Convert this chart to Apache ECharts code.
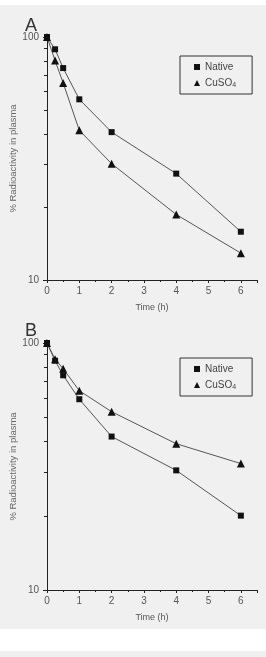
<!DOCTYPE html>
<html>
<head>
<meta charset="utf-8">
<script src="https://cdn.jsdelivr.net/npm/echarts@6/dist/echarts.min.js"></script>
<style>
  body { margin: 0; background: #fff; }
  #chart { position: absolute; left: 0; top: 5px; width: 266px; height: 624px; background: #f0f0f0; }
  #strip { position: absolute; left: 0; top: 651px; width: 266px; height: 6px; background: #f0f0f0; }
</style>
</head>
<body>
<div id="chart"></div>
<div id="strip"></div>
<script>
// 时间点 (h)
var times = [0, 0.25, 0.5, 1, 2, 4, 6];
// A 图数据
var nativeA = [100, 89, 74.5, 55.4, 40.6, 27.4, 15.8];
var cuso4A = [100, 80, 64.7, 41.3, 30.1, 18.6, 12.9];
// B 图数据
var nativeB = [100, 84.8, 74, 59.2, 41.8, 30.5, 20];
var cuso4B = [100, 86, 78.7, 64.1, 52.7, 39.1, 32.5];
// 刻度
var yMinorTicks = [20, 30, 40, 50, 60, 70, 80, 90];

var font = 'Liberation Sans, Arial, sans-serif';

function pairs(vals) {
    return times.map(function (t, i) { return [t, vals[i]]; });
}

function xAxisOf(gi) {
    return {
        type: 'value', gridIndex: gi, min: 0, max: 6.5, interval: 1,
        name: 'Time (h)', nameLocation: 'middle', nameGap: 23, nameMoveOverlap: false,
        nameTextStyle: { fontFamily: font, fontSize: 9, color: '#555' },
        axisLine: { lineStyle: { color: '#222', width: 1 } },
        axisTick: { show: true, length: 3, lineStyle: { color: '#222' } },
        minorTick: { show: true, splitNumber: 2, length: 2, lineStyle: { color: '#222' } },
        splitLine: { show: false },
        axisLabel: {
            fontFamily: font, fontSize: 10, color: '#555', margin: 6,
            formatter: function (v) { return v % 1 === 0 && v <= 6 ? String(v) : ''; }
        }
    };
}

function yAxisOf(gi) {
    return {
        type: 'log', gridIndex: gi, logBase: 10, min: 10, max: 100,
        name: '% Radioactivity in plasma', nameLocation: 'middle', nameGap: 29, nameMoveOverlap: false,
        nameTextStyle: { fontFamily: font, fontSize: 9.5, color: '#666' },
        axisLine: { show: true, lineStyle: { color: '#222', width: 1 } },
        axisTick: { show: true, length: 4, lineStyle: { color: '#222' } },
        splitLine: { show: false },
        axisLabel: { fontFamily: font, fontSize: 10, color: '#555', margin: 8 }
    };
}

function legendOf(top) {
    return {
        orient: 'vertical', left: 180, top: top, width: 70,
        backgroundColor: '#f0f0f0', borderColor: '#333', borderWidth: 1, borderRadius: 0,
        padding: [6, 16, 5, 14], itemGap: 6, itemWidth: 6, itemHeight: 6,
        textStyle: {
            fontFamily: font, fontSize: 10, color: '#444',
            rich: { sub: { fontSize: 7, verticalAlign: 'bottom', padding: [5, 0, 0, 0], fontFamily: font, color: '#444' } }
        },
        formatter: function (n) { return n === 'CuSO4' ? 'CuSO{sub|4}' : n; },
        data: [{ name: 'Native', icon: 'rect' }, { name: 'CuSO4', icon: 'triangle' }]
    };
}

function seriesOf(name, vals, gi, sym) {
    return {
        name: name, type: 'line', xAxisIndex: gi, yAxisIndex: gi,
        data: pairs(vals), symbol: sym, symbolSize: sym === 'rect' ? 6 : 8,
        itemStyle: { color: '#111' },
        lineStyle: { color: '#555', width: 1 },
        animation: false
    };
}

var chart = echarts.init(document.getElementById('chart'));
var option = {
    animation: false,
    title: [
        { text: 'A', left: 20, top: 7, textStyle: { fontFamily: font, fontSize: 18, fontWeight: 'normal', color: '#333' } },
        { text: 'B', left: 20, top: 312, textStyle: { fontFamily: font, fontSize: 18, fontWeight: 'normal', color: '#333' } }
    ],
    grid: [
        { left: 47, right: 9, top: 32, height: 243, containLabel: false, outerBoundsMode: 'none' },
        { left: 47, right: 9, top: 338, height: 247, containLabel: false, outerBoundsMode: 'none' }
    ],
    xAxis: [xAxisOf(0), xAxisOf(1)],
    yAxis: [yAxisOf(0), yAxisOf(1)],
    legend: [legendOf(51), legendOf(353)],
    series: [
        seriesOf('Native', nativeA, 0, 'rect'),
        seriesOf('CuSO4', cuso4A, 0, 'triangle'),
        seriesOf('Native', nativeB, 1, 'rect'),
        seriesOf('CuSO4', cuso4B, 1, 'triangle')
    ]
};
chart.setOption(option);

// 对数轴上的次刻度用 graphic 画
var g = [];
[0, 1].forEach(function (gi) {
    var x0 = chart.convertToPixel({ xAxisIndex: gi }, 0);
    yMinorTicks.forEach(function (v) {
        var y = Math.round(chart.convertToPixel({ yAxisIndex: gi }, v)) + 0.5;
        g.push({ type: 'line', z: 10, shape: { x1: x0 - 3, y1: y, x2: x0, y2: y }, style: { stroke: '#222', lineWidth: 1 } });
    });
});
chart.setOption({ graphic: g });
</script>
</body>
</html>
